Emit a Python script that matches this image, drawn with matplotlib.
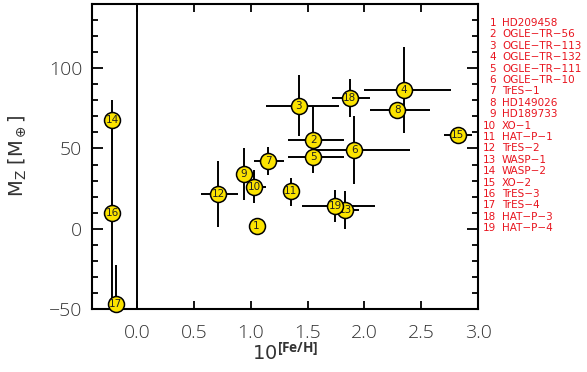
import matplotlib
matplotlib.use("Agg")
import matplotlib.pyplot as plt
from matplotlib.ticker import MultipleLocator

# ---- data ----
ids = list(range(1, 20))
names = ["HD209458", "OGLE-TR-56", "OGLE-TR-113", "OGLE-TR-132", "OGLE-TR-111",
         "OGLE-TR-10", "TrES-1", "HD149026", "HD189733", "XO-1", "HAT-P-1",
         "TrES-2", "WASP-1", "WASP-2", "XO-2", "TrES-3", "TrES-4", "HAT-P-3", "HAT-P-4"]
feh = [1.05, 1.55, 1.42, 2.35, 1.55, 1.91, 1.15, 2.29, 0.94, 1.03,
       1.35, 0.71, 1.83, -0.22, 2.82, -0.22, -0.19, 1.87, 1.74]
mz = [1.5, 55.4, 76.7, 86.7, 45.0, 49.2, 42.1, 74.2, 34.2, 26.3,
      23.3, 21.7, 11.7, 67.5, 58.3, 9.6, -47.0, 81.4, 13.9]
xerr_lo = [0.03, 0.22, 0.29, 0.35, 0.22, 0.36, 0.12, 0.24, 0.07, 0.07,
           0.03, 0.15, 0.05, 0.0, 0.12, 0.0, 0.0, 0.16, 0.29]
xerr_hi = [0.03, 0.27, 0.355, 0.41, 0.27, 0.49, 0.14, 0.29, 0.10, 0.10,
           0.03, 0.18, 0.12, 0.0, 0.13, 0.0, 0.0, 0.18, 0.35]
yerr_lo = [3, 10, 19.2, 27.1, 10, 21.3, 8.4, 4, 16, 10.2,
           8.9, 20.9, 11.7, 12.5, 3, 80, 30, 11.8, 10]
yerr_hi = [3, 21.3, 19.1, 26.6, 10, 21, 8.7, 4, 16.2, 10,
           8.4, 20.4, 12, 13, 3, 55, 24.5, 12.1, 10.3]

plt.rcParams['mathtext.fontset'] = 'custom'
plt.rcParams['mathtext.rm'] = 'Open Sans:light'
plt.rcParams['mathtext.it'] = 'Open Sans:light'
plt.rcParams['mathtext.bf'] = 'Open Sans:bold'

fig = plt.figure(figsize=(5.87, 3.72), dpi=100)
ax = fig.add_axes([92/587, 1-309/372, (478-92)/587, (309-4)/372])

ax.errorbar(feh, mz, xerr=[xerr_lo, xerr_hi], yerr=[yerr_lo, yerr_hi],
            fmt='none', ecolor='black', elinewidth=1.4, capsize=0, zorder=2)
ax.axvline(0.0, color='black', lw=1.4, zorder=1)

for i, x, y in zip(ids, feh, mz):
    ax.plot([x], [y], 'o', ms=11.5, mfc='#fbe300', mec='black', mew=1.1,
            zorder=3 + i * 0.01, clip_on=False)
    ax.text(x, y, str(i), ha='center', va='center', fontsize=7.5,
            family=['Liberation Sans Narrow', 'DejaVu Sans'], color='#222222',
            zorder=3 + i * 0.01 + 0.005, clip_on=False)

ax.set_xlim(-0.4, 3.0)
ax.set_ylim(-50, 140)
ax.yaxis.set_major_locator(MultipleLocator(50))
ax.yaxis.set_minor_locator(MultipleLocator(10))
ax.set_xticks([0.0, 0.5, 1.0, 1.5, 2.0, 2.5, 3.0])
ax.set_xticklabels(["0.0", "0.5", "1.0", "1.5", "2.0", "2.5", "3.0"])

ax.tick_params(axis='both', which='both', direction='in', top=True, right=True,
               colors='black', labelcolor='#333333', width=1.3)
ax.tick_params(axis='x', which='major', length=6, pad=11, labelsize=14)
ax.tick_params(axis='y', which='major', length=8, pad=7, labelsize=14)
ax.tick_params(axis='y', which='minor', length=4)
for lab in ax.get_xticklabels() + ax.get_yticklabels():
    lab.set_family(['Open Sans', 'DejaVu Sans'])
    lab.set_fontweight('light')
for s in ax.spines.values():
    s.set_linewidth(1.5)

ax.set_ylabel(r'$\mathregular{M_Z\ [M_\oplus]}$', fontsize=14, color='#333333',
              labelpad=15)
ax.set_xlabel(r'$\mathregular{10^{\bf{[Fe/H]}}}$', fontsize=14, color='#333333',
              labelpad=0)

y0 = 1 - 23/372
dy = 11.4/372
for k, (i, n) in enumerate(zip(ids, names)):
    fig.text(496/587, y0 - k*dy, str(i), ha='right', va='center', fontsize=7.5,
             color='#e8141e')
    fig.text(502/587, y0 - k*dy, n.replace('-', '\u2212'), ha='left', va='center',
             fontsize=7.5, color='#e8141e')

fig.savefig('out.png', dpi=100)
